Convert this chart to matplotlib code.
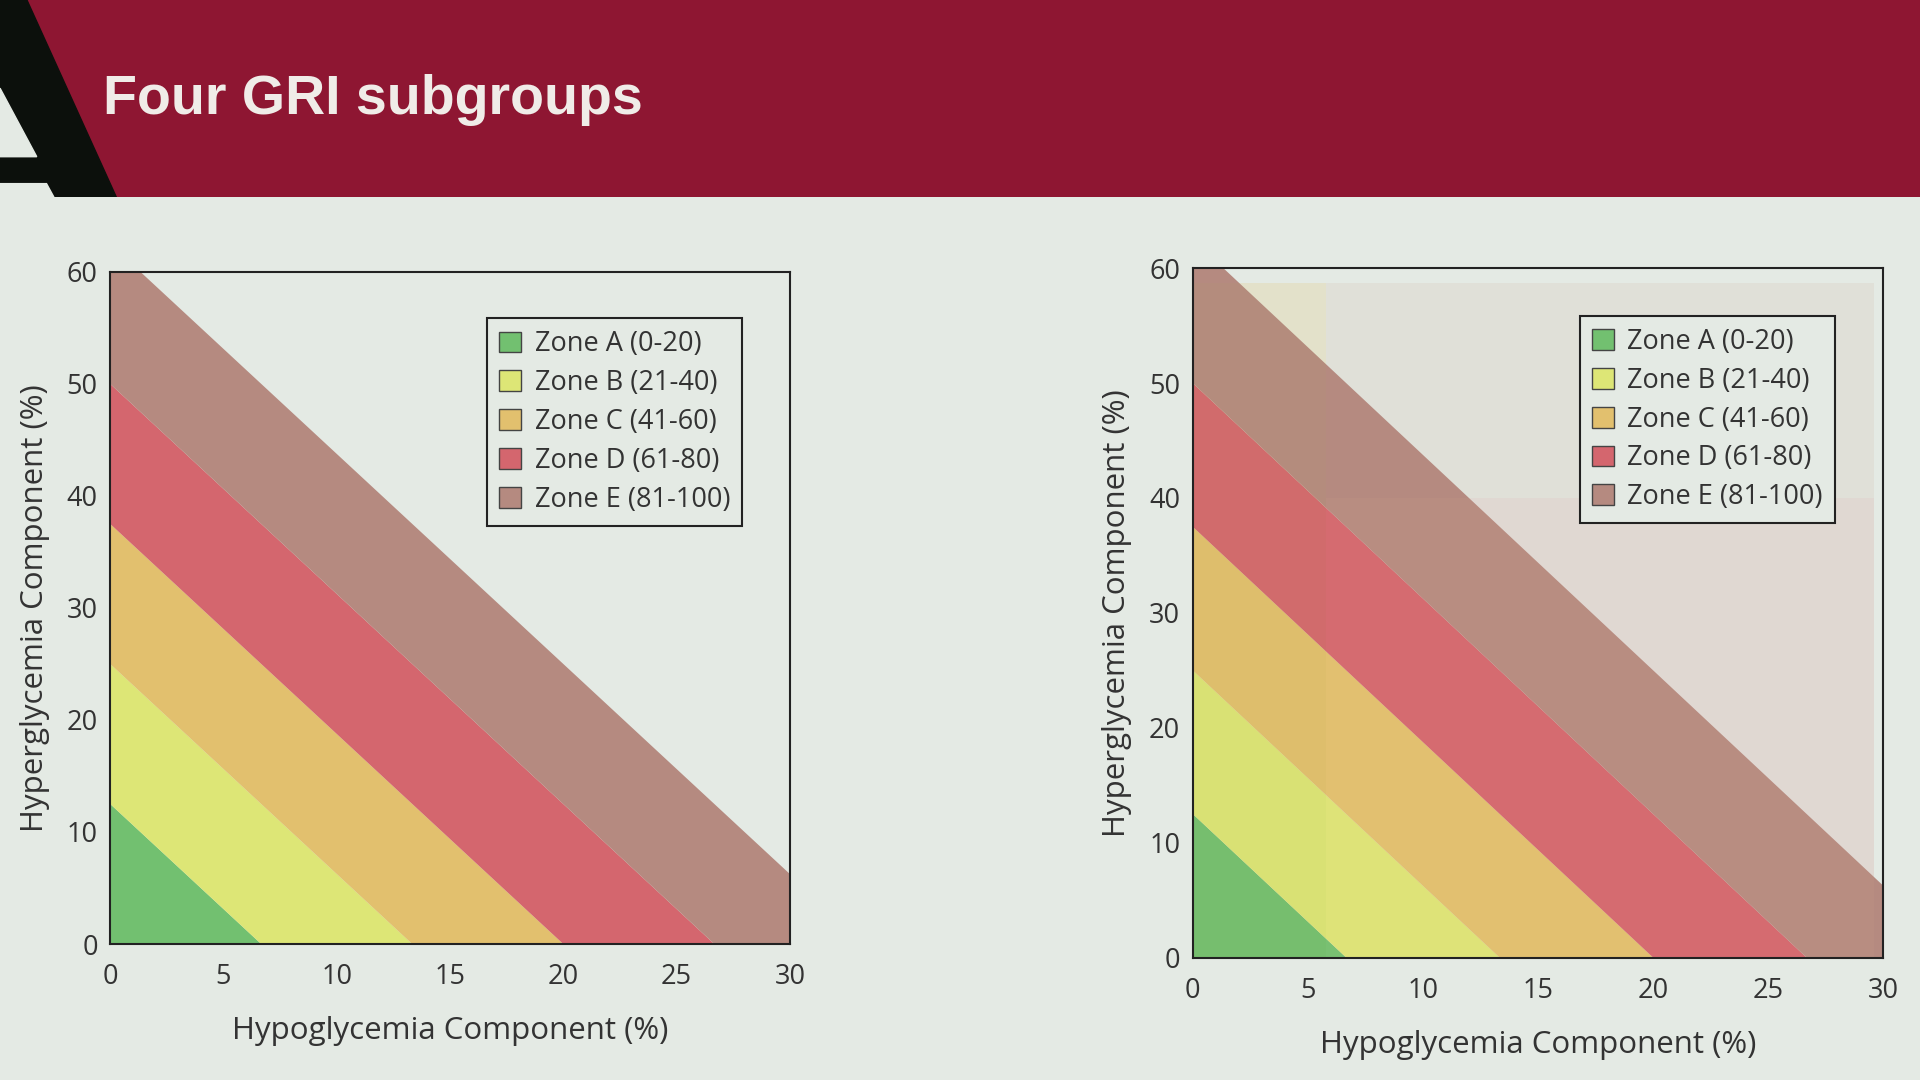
import matplotlib
matplotlib.use("Agg")
import matplotlib.pyplot as plt
import numpy as np
from matplotlib.patches import Polygon, Rectangle, Patch

zones = ["Zone A (0-20)", "Zone B (21-40)", "Zone C (41-60)", "Zone D (61-80)", "Zone E (81-100)"]
bounds = [0, 20, 40, 60, 80, 100]
colors = ["#72c070", "#dde676", "#e2c06e", "#d4666e", "#b58a80"]
hypo_w, hyper_w = 3.0, 1.6
xticks = [0, 5, 10, 15, 20, 25, 30]
yticks = [0, 10, 20, 30, 40, 50, 60]
# subgroup split (right chart)
hypo_split, hyper_split = 5.8, 40
bg = "#e4eae4"
font = "Open Sans"

fig = plt.figure(figsize=(19.2, 10.8), dpi=100, facecolor=bg)
hdr = fig.add_axes([0, 0.8175, 1, 0.1825]); hdr.set_axis_off()
hdr.set_xlim(0, 1568); hdr.set_ylim(161, 0)
hdr.add_patch(Rectangle((0, 0), 1568, 161, color="#8e1632"))
hdr.add_patch(Polygon([(0, 0), (22, 0), (95, 161), (0, 161)], color="#0c100c"))
hdr.add_patch(Polygon([(0, 72), (30, 128), (0, 128)], color=bg))
hdr.add_patch(Polygon([(0, 150), (38, 150), (44, 161), (0, 161)], color=bg))
hdr.text(84, 82, "Four GRI subgroups", color="#f0ece8", fontsize=40, fontweight="bold",
         family="Liberation Sans", va="center")

def panel(rect, overlay=False, xpad=12, xlabpad=14):
    ax = fig.add_axes(rect)
    ax.set_facecolor(bg)
    x = np.linspace(0, 30, 301)
    if overlay:
        ax.add_patch(Rectangle((0, 0), hypo_split, 58.7, color="#e8e6d4", lw=0, zorder=0.5))
        ax.add_patch(Rectangle((hypo_split, hyper_split), 29.6 - hypo_split, 58.7 - hyper_split,
                               color="#e0e0d8", lw=0, zorder=0.5))
        ax.add_patch(Rectangle((hypo_split, 0), 29.6 - hypo_split, hyper_split,
                               color="#e0dad6", lw=0, zorder=0.5))
    for i, z in enumerate(zones):
        lo = np.clip((bounds[i] - hypo_w * x) / hyper_w, 0, None)
        hi = np.clip((bounds[i + 1] - hypo_w * x) / hyper_w, 0, None)
        ax.fill_between(x, lo, hi, color=colors[i], lw=0, label=z, zorder=1)
    if overlay:
        ax.add_patch(Rectangle((0, 0), hypo_split, 58.7, color="#b0a860", alpha=0.08, lw=0, zorder=2))
        ax.add_patch(Rectangle((hypo_split, 0), 29.6 - hypo_split, hyper_split,
                               color="#f0c0a0", alpha=0.06, lw=0, zorder=2))
    ax.set_xlim(0, 30); ax.set_ylim(0, 60)
    ax.set_xticks(xticks); ax.set_yticks(yticks)
    ax.tick_params(length=0, labelsize=19.5, colors="#333333", pad=9)
    ax.tick_params(axis="x", pad=xpad)
    for l in ax.get_xticklabels() + ax.get_yticklabels():
        l.set_family(font)
    for s in ax.spines.values():
        s.set_color("#222222"); s.set_linewidth(1.5); s.set_zorder(5)
    ax.set_xlabel("Hypoglycemia Component (%)", fontsize=22.5, family=font, color="#333333", labelpad=xlabpad)
    ax.set_ylabel("Hyperglycemia Component (%)", fontsize=22.5, family=font, color="#333333", labelpad=12)
    handles = [Patch(facecolor=c, edgecolor="#444444", label=z) for c, z in zip(colors, zones)]
    leg = ax.legend(handles=handles, loc="upper right", bbox_to_anchor=(0.93, 0.931),
                    prop={"family": font, "size": 19.5}, frameon=True, fancybox=False,
                    edgecolor="#222222", facecolor=bg, framealpha=1,
                    handlelength=0.8, handleheight=0.8, handletextpad=0.5, labelspacing=0.4,
                    borderpad=0.45, borderaxespad=0)
    leg.get_frame().set_linewidth(1.5)
    leg.set_zorder(6)
    for t in leg.get_texts():
        t.set_color("#333333")
    return ax

panel([0.0574, 0.1259, 0.354, 0.6224], xpad=14, xlabpad=18)
panel([0.6212, 0.1134, 0.3597, 0.6383], overlay=True, xpad=14, xlabpad=18)

fig.savefig("out.png", dpi=100, facecolor=bg)
